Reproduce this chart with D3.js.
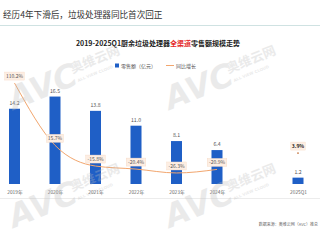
<!DOCTYPE html>
<html>
<head>
<meta charset="utf-8">
<script src="https://d3js.org/d3.v7.min.js"></script>
<style>
  body { margin: 0; background: #fff; }
  svg { display: block; font-family: "Noto Sans CJK SC", "Noto Sans", sans-serif; }
</style>
</head>
<body>
<div id="chart"></div>
<script>
// data
const periods = ["2019年", "2020年", "2021年", "2022年", "2023年", "2024年", "2025Q1"];
const sales = [14.2, 16.5, 13.8, 11.0, 8.1, 6.4, 1.2];
const growth = [110.2, 15.7, -15.8, -20.4, -26.3, -20.9, 3.9];
const growthLabels = ["110.2%", "15.7%", "-15.8%", "-20.4%", "-26.3%", "-20.9%", "3.9%"];

const W = 320, H = 240;
const blue = "#1f5fc6", orange = "#f2a66e";

const svg = d3.select("#chart").append("svg")
    .attr("width", W).attr("height", H);

// titles
svg.append("text")
    .attr("x", 3).attr("y", 18)
    .attr("font-size", 8.6).attr("fill", "#333")
    .text("经历4年下滑后，垃圾处理器同比首次回正");

svg.append("line")
    .attr("x1", 0).attr("x2", W).attr("y1", 25.5).attr("y2", 25.5)
    .attr("stroke", "#cfe2e2").attr("stroke-width", 1);

const sub = svg.append("text")
    .attr("x", 158).attr("y", 45.5)
    .attr("text-anchor", "middle")
    .attr("font-size", 7).attr("font-weight", 600).attr("fill", "#222");
sub.append("tspan").text("2019-2025Q1厨余垃圾处理器");
sub.append("tspan").attr("fill", "#e42a2a").text("全渠道");
sub.append("tspan").text("零售额规模走势");

// scales: one empty slot before 2025Q1
const slots = periods.slice(0, 6).concat(["gap"], periods.slice(6));
const x = d3.scalePoint().domain(slots).range([14.5, 298]);
const y = d3.scaleLinear().domain([0, 22]).range([184, 67.4]);
const y2 = d3.scaleLinear().domain([-40, 120]).range([182, 76.6]);
const barW = 11;

const rows = periods.map((p, i) => ({ p, v: sales[i], g: growth[i], gl: growthLabels[i] }));

// legend
svg.append("rect").attr("x", 115).attr("y", 63.5).attr("width", 4).attr("height", 4).attr("fill", blue);
svg.append("text").attr("x", 121).attr("y", 67.6).attr("font-size", 5).attr("fill", "#555").text("零售额（亿元）");
svg.append("line").attr("x1", 166).attr("x2", 174).attr("y1", 65.5).attr("y2", 65.5)
    .attr("stroke", orange).attr("stroke-width", 1);
svg.append("text").attr("x", 176).attr("y", 67.6).attr("font-size", 5).attr("fill", "#555").text("同比增长");

// bars
svg.selectAll(".bar").data(rows).enter().append("rect")
    .attr("class", "bar")
    .attr("x", d => x(d.p) - barW / 2)
    .attr("y", d => y(d.v))
    .attr("width", barW)
    .attr("height", d => y(0) - y(d.v))
    .attr("fill", blue);

svg.selectAll(".val").data(rows).enter().append("text")
    .attr("x", d => x(d.p))
    .attr("y", d => y(d.v) - 4)
    .attr("text-anchor", "middle")
    .attr("font-size", 5.2).attr("fill", "#555")
    .text(d => d.v.toFixed(1));

// x axis labels
svg.append("g")
    .attr("transform", "translate(0,184)")
    .call(d3.axisBottom(x).tickValues(periods).tickSize(0).tickPadding(7))
    .call(g => g.select(".domain").remove())
    .selectAll("text")
    .attr("font-size", 4.8).attr("fill", "#666")
    .attr("font-family", "'Noto Sans CJK SC', sans-serif");

svg.append("line")
    .attr("x1", 0).attr("x2", W).attr("y1", 198.5).attr("y2", 198.5)
    .attr("stroke", "#ececec");

// growth line (2019-2024), 2025Q1 as single point
const lineRows = rows.slice(0, 6);
svg.append("path")
    .datum(lineRows)
    .attr("fill", "none")
    .attr("stroke", orange)
    .attr("stroke-width", 1)
    .attr("d", d3.line().x(d => x(d.p)).y(d => y2(d.g)).curve(d3.curveMonotoneX));

svg.append("circle")
    .attr("cx", x(rows[6].p)).attr("cy", y2(rows[6].g))
    .attr("r", 0.9).attr("fill", "#c77a45");

const lab = svg.selectAll(".gl").data(rows).enter().append("g")
    .attr("transform", d => `translate(${x(d.p)},${y2(d.g) - 7})`);
lab.append("rect")
    .attr("x", d => -(d.gl.length * 2.6 + 4) / 2)
    .attr("y", -4)
    .attr("width", d => d.gl.length * 2.6 + 4)
    .attr("height", 8)
    .attr("fill", "#fdeee3")
    .attr("stroke", "#f6d9c4").attr("stroke-width", 0.4);
lab.append("text")
    .attr("text-anchor", "middle").attr("y", 1.8)
    .attr("font-size", 5).attr("fill", (d, i) => i === 6 ? "#222" : "#555")
    .attr("font-weight", (d, i) => i === 6 ? 700 : 400)
    .text(d => d.gl);

// source
svg.append("text")
    .attr("x", 318).attr("y", 226)
    .attr("text-anchor", "end")
    .attr("font-size", 4).attr("fill", "#666")
    .text("数据来源：奥维云网（AVC）推总");

// watermarks
const marks = [[14, 110], [170, 110], [14, 228], [170, 228]];
const wm = svg.selectAll(".wm").data(marks).enter().append("g")
    .attr("transform", d => `translate(${d[0]},${d[1]}) rotate(-22)`)
    .attr("fill", "#bdbdbd").attr("opacity", 0.3);
wm.append("text")
    .attr("font-size", 32).attr("font-weight", 700).attr("font-style", "italic")
    .attr("font-family", "'DejaVu Sans', sans-serif")
    .text("AVC");
wm.append("text")
    .attr("x", 68).attr("y", -12)
    .attr("font-size", 13).attr("font-weight", 700)
    .text("奥维云网");
wm.append("text")
    .attr("x", 70).attr("y", -2)
    .attr("font-size", 4).attr("font-weight", 700)
    .attr("font-family", "'DejaVu Sans', sans-serif")
    .text("ALL VIEW CLOUD");
</script>
</body>
</html>
